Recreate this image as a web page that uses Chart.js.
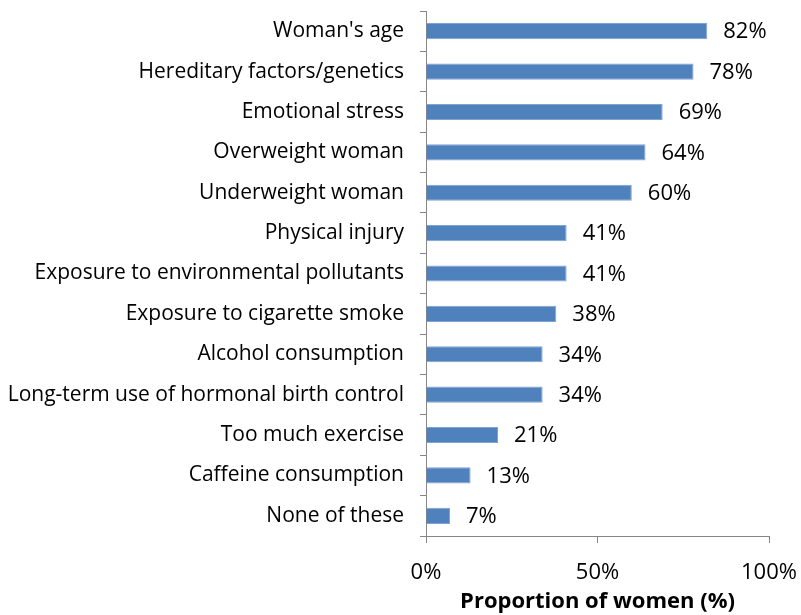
<!DOCTYPE html>
<html>
<head>
<meta charset="utf-8">
<script src="https://cdn.jsdelivr.net/npm/chart.js@4"></script>
<style>
  html, body { margin: 0; padding: 0; background: #fff; }
  #wrap { width: 801px; height: 615px; }
</style>
</head>
<body>
<div id="wrap"><canvas id="factors-chart" width="801" height="615"></canvas></div>
<script>
const categories = [
    "Woman's age",
    'Hereditary factors/genetics',
    'Emotional stress',
    'Overweight woman',
    'Underweight woman',
    'Physical injury',
    'Exposure to environmental pollutants',
    'Exposure to cigarette smoke',
    'Alcohol consumption',
    'Long-term use of hormonal birth control',
    'Too much exercise',
    'Caffeine consumption',
    'None of these'
];
const proportions = [82, 78, 69, 64, 60, 41, 41, 38, 34, 34, 21, 13, 7];
const xTicks = [0, 50, 100];

const FONT = '"Open Sans", Lato, sans-serif';

// draws "82%" etc. just right of each bar
const barLabels = {
    id: 'barLabels',
    afterDatasetsDraw(chart) {
        const ctx = chart.ctx;
        const meta = chart.getDatasetMeta(0);
        ctx.save();
        ctx.font = '22px ' + FONT;
        ctx.fillStyle = '#000';
        ctx.textAlign = 'left';
        ctx.textBaseline = 'middle';
        meta.data.forEach((bar, i) => {
            ctx.fillText(proportions[i] + '%', bar.x + 16, bar.y + 1);
        });
        ctx.restore();
    }
};

new Chart(document.getElementById('factors-chart').getContext('2d'), {
    type: 'bar',
    data: {
        labels: categories,
        datasets: [{
            data: proportions,
            backgroundColor: '#4F81BD',
            borderColor: '#7FA3D3',
            borderWidth: 1,
            borderSkipped: 'start',
            categoryPercentage: 1,
            barPercentage: 0.4
        }]
    },
    options: {
        indexAxis: 'y',
        responsive: false,
        animation: false,
        layout: { padding: { top: 11, right: 32, left: 0, bottom: 0 } },
        plugins: {
            legend: { display: false },
            tooltip: { enabled: false }
        },
        scales: {
            x: {
                min: 0,
                max: 100,
                afterBuildTicks: scale => { scale.ticks = xTicks.map(v => ({ value: v })); },
                afterFit: scale => {
                    scale.height = 79;
                    scale.paddingLeft = 0;
                    scale.paddingRight = 0;
                },
                ticks: {
                    callback: v => v + '%',
                    color: '#000',
                    font: { family: FONT, size: 22 },
                    padding: 17,
                    maxRotation: 0
                },
                grid: {
                    drawOnChartArea: false,
                    drawTicks: true,
                    tickLength: 7,
                    color: '#868686'
                },
                border: { color: '#868686', width: 1 },
                title: {
                    display: true,
                    text: 'Proportion of women (%)',
                    color: '#000',
                    font: { family: FONT, size: 22, weight: 'bold' },
                    padding: { top: 0, bottom: 0 }
                }
            },
            y: {
                offset: true,
                afterFit: scale => {
                    scale.width = 426;
                    scale.paddingTop = 0;
                    scale.paddingBottom = 0;
                },
                ticks: {
                    color: '#000',
                    font: { family: FONT, size: 21 },
                    padding: 16
                },
                grid: {
                    offset: true,
                    drawOnChartArea: false,
                    drawTicks: true,
                    tickLength: 6,
                    color: '#868686'
                },
                border: { color: '#868686', width: 1 }
            }
        }
    },
    plugins: [barLabels]
});
</script>
</body>
</html>
